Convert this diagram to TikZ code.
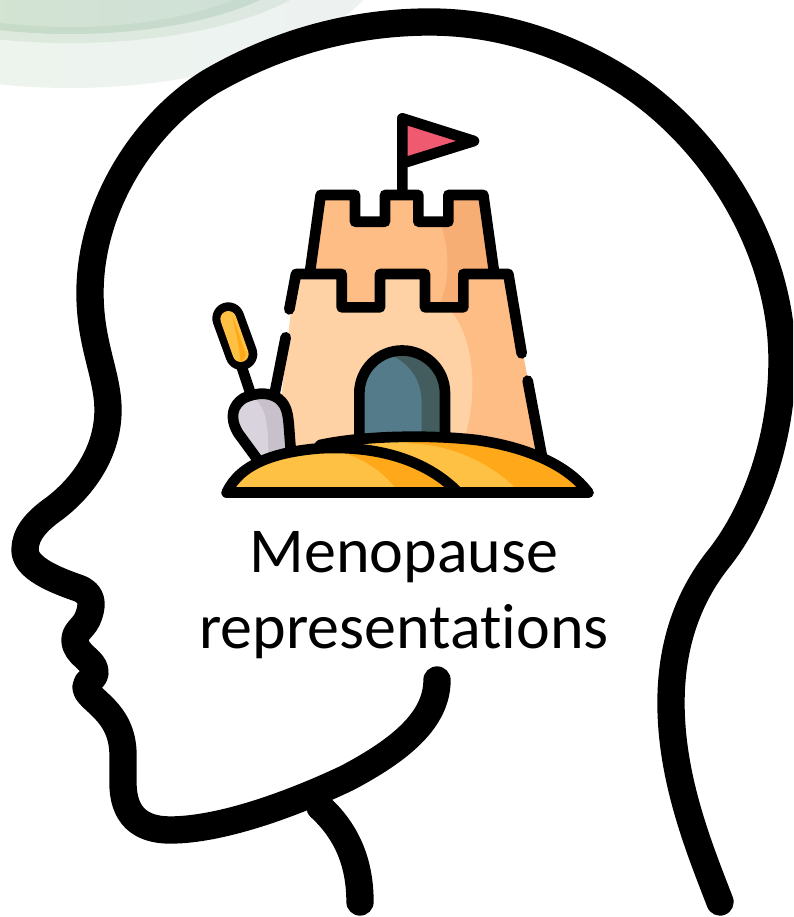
\documentclass[tikz,border=0pt]{standalone}
\usepackage{fontspec}
\setmainfont[Ligatures=NoCommon]{Carlito}
\definecolor{sandA}{HTML}{FFBD86}
\definecolor{sandB}{HTML}{F6AE74}
\definecolor{sandC}{HTML}{FED2A4}
\definecolor{goldA}{HTML}{FFC143}
\definecolor{goldB}{HTML}{FFA91A}
\definecolor{doorA}{HTML}{547B8A}
\definecolor{doorB}{HTML}{435C5D}
\definecolor{shovA}{HTML}{D8D3DC}
\definecolor{shovB}{HTML}{C8C1CC}
\definecolor{flagc}{HTML}{F05A70}
\definecolor{bgA}{HTML}{EDF5EA}
\definecolor{bgB}{HTML}{EDF2F2}
\definecolor{bgC}{HTML}{DDEAD8}
\definecolor{bgD}{HTML}{DDE7E3}
\definecolor{bgE}{HTML}{C8DDC4}
\definecolor{bgF}{HTML}{C6D9D0}
\definecolor{bgG}{HTML}{D6E6CF}
\definecolor{bgH}{HTML}{CEDFD8}
\tikzset{
  headline/.style={line width=20.5pt,line cap=round,line join=round,black},
  icon/.style={line width=8pt,line cap=round,line join=round,black},
}
\begin{document}
\begin{tikzpicture}[x=0.75pt,y=-0.75pt]
\useasboundingbox (0,0) rectangle (793,917);
\begin{scope}
\clip (0,0) rectangle (793,917);
\shade[left color=bgA,right color=bgB] (70,-62) ellipse [x radius=322,y radius=150];
\shade[left color=bgC,right color=bgD] (70,-60) ellipse [x radius=271,y radius=103];
\shade[left color=bgE,right color=bgF] (70,-60) ellipse [x radius=247,y radius=94];
\shade[left color=bgG,right color=bgH] (70,-60) ellipse [x radius=225,y radius=87];

\draw[headline] (720,902) .. controls (700,850) and (671,780) .. (671,703)
  .. controls (671,650) and (685,600) .. (720,557)
  .. controls (755,512) and (782,440) .. (782,360)
  .. controls (782,250) and (715,140) .. (626,82)
  .. controls (580,52) and (510,22) .. (430,22)
  .. controls (340,22) and (265,50) .. (210,82)
  .. controls (145,122) and (90,205) .. (90,293)
  .. controls (90,345) and (108,375) .. (108,410)
  .. controls (108,450) and (85,485) .. (55,508)
  .. controls (35,522) and (25,535) .. (25,550)
  .. controls (25,568) and (55,580) .. (78,588)
  .. controls (92,593) and (93,603) .. (89,615)
  .. controls (85,628) and (75,630) .. (75,640)
  .. controls (75,655) and (95,660) .. (95,672)
  .. controls (95,680) and (86,680) .. (86,687)
  .. controls (86,700) and (123,710) .. (123,755)
  -- (123,783)
  .. controls (123,815) and (140,830) .. (170,830)
  .. controls (220,830) and (290,805) .. (347,778)
  .. controls (400,750) and (437,720) .. (437,680);
\draw[headline] (320,807) .. controls (345,830) and (360,860) .. (360,902);
\end{scope}

\begin{scope}[shift={(200,100)},x=0.25pt,y=-0.25pt]
 % upper tower
 \fill[sandA] (362,285)--(465,285)--(465,365)--(555,365)--(555,285)--(655,285)--(655,365)--(745,365)--(745,285)--(850,285)--(885,530)--(790,630)--(425,630)--(330,530)--cycle;
 \fill[sandB] (720,365) .. controls (750,450) and (750,540) .. (720,610) -- (790,610) -- (790,520) -- (885,520) -- (850,285) -- (745,285) -- (745,365) -- cycle;
 % lower tower
 \fill[sandC] (285,522)--(425,522)--(425,622)--(540,622)--(540,522)--(675,522)--(675,622)--(790,622)--(790,522)--(925,522)--(1025,1065)--(225,1065)--cycle;
 \fill[sandA] (750,630) .. controls (830,720) and (830,900) .. (795,1010) -- (1025,1065) -- (925,522) -- (790,522) -- (790,630) -- cycle;
 % door
 \fill[doorB] (478,1015)--(478,880) arc[start angle=180,end angle=360,radius=128.5] -- (735,1015)--cycle;
 \fill[doorA] (478,1015)--(478,880) arc[start angle=180,end angle=250,radius=128.5] .. controls (630,790) and (665,840) .. (665,910) -- (665,1015) -- cycle;
 \draw[icon] (478,1005)--(478,880) arc[start angle=180,end angle=360,radius=128.5] -- (735,1005);
 % tower outlines
 \draw[icon] (330,515)--(362,285)--(465,285)--(465,365)--(555,365)--(555,285)--(655,285)--(655,365)--(745,365)--(745,285)--(850,285)--(882,515);
 \draw[icon] (268,628)--(288,522)--(425,522)--(425,622)--(540,622)--(540,522)--(675,522)--(675,622)--(790,622)--(790,522)--(925,522)--(965,760);
 \draw[icon] (257,712)--(225,875);
 \draw[icon] (983,842)--(1025,1065);
 % flag
 \fill[flagc] (607,55)--(822,123)--(607,190)--cycle;
 \draw[icon] (607,275)--(607,55)--(822,123)--(607,190);
 % shovel
 \draw[icon] (150,875)--(125,800);
 \draw[line width=24pt,line cap=round] (85,655)--(124,762);
 \draw[line width=12pt,line cap=round,goldA] (85,657)--(122,762);
 \fill[goldB] (97,648) .. controls (110,680) and (125,725) .. (138,765) .. controls (134,782) and (120,785) .. (120,785) .. controls (120,740) and (105,690) .. (97,648) -- cycle;
 \fill[shovA] (170,1075)--(103,985) .. controls (85,920) and (150,880) .. (190,882) .. controls (240,890) and (265,930) .. (268,1045) -- cycle;
 \fill[shovB] (165,895) .. controls (195,925) and (205,960) .. (205,1060) -- (268,1045) .. controls (265,930) and (240,890) .. (190,882) -- cycle;
 \draw[icon] (170,1075)--(115,1000) .. controls (85,950) and (100,915) .. (130,895) .. controls (170,875) and (220,875) .. (245,905) .. controls (268,930) and (265,970) .. (272,1045);
 % sand
 \path[fill=goldA] (360,1040) .. controls (500,1005) and (700,1005) .. (830,1020) .. controls (970,1040) and (1100,1090) .. (1165,1178) -- (760,1178) -- cycle;
 \fill[goldB] (620,1030) .. controls (750,1030) and (880,1090) .. (960,1178) -- (1165,1178) .. controls (1100,1090) and (970,1040) .. (830,1020) .. controls (760,1012) and (690,1012) .. (620,1030) -- cycle;
 \draw[icon] (360,1035) .. controls (500,1005) and (700,1005) .. (830,1020) .. controls (970,1040) and (1100,1090) .. (1165,1178);
 \fill[goldA] (80,1178) .. controls (120,1090) and (230,1055) .. (360,1045) .. controls (550,1035) and (690,1090) .. (775,1178) -- cycle;
 \fill[goldB] (370,1045) .. controls (480,1060) and (560,1120) .. (595,1178) -- (775,1178) .. controls (690,1090) and (550,1035) .. (370,1045) -- cycle;
 \draw[icon] (80,1178) .. controls (120,1090) and (230,1055) .. (360,1045) .. controls (550,1035) and (690,1090) .. (775,1178);
 \draw[icon] (80,1178)--(1165,1178);
\end{scope}

\node[align=center,font=\fontsize{48}{56.5}\selectfont,inner sep=0pt] (label) at (404,595) {Menopause\\representations};
\end{tikzpicture}
\end{document}
